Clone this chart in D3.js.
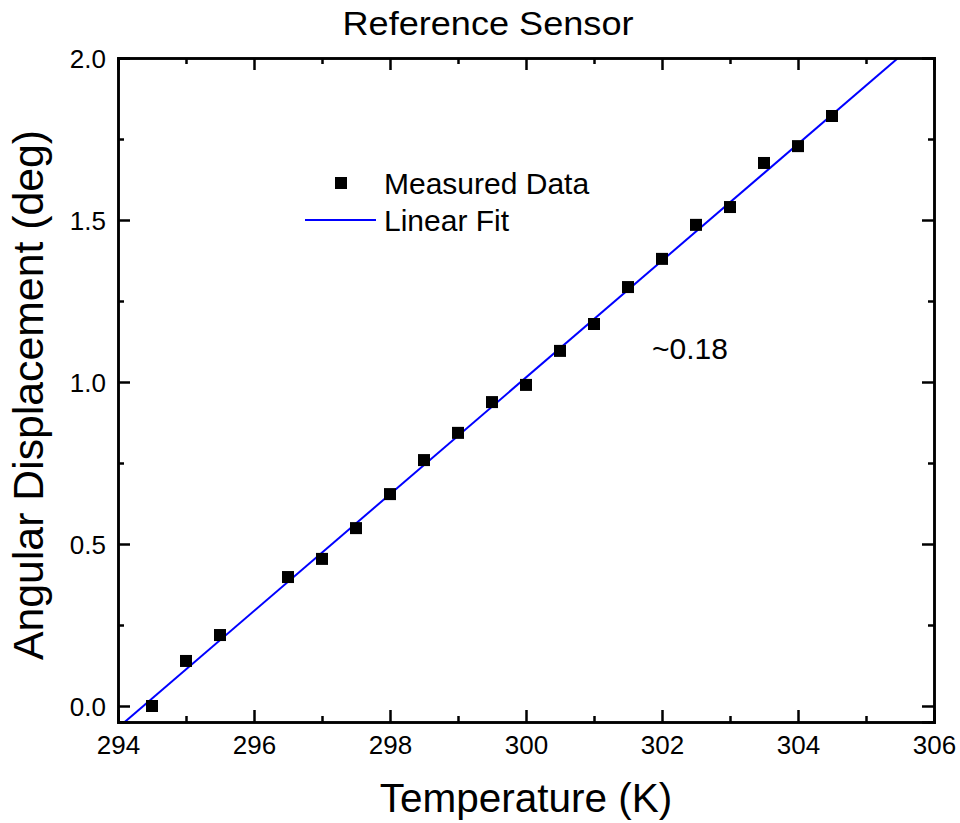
<!DOCTYPE html>
<html><head><meta charset="utf-8">
<script src="https://cdn.jsdelivr.net/npm/d3@7"></script>
<style>body{margin:0;background:#fff}svg{display:block}text{font-family:"Liberation Sans",Arial,sans-serif;fill:#000}</style>
</head><body><svg id="c" width="960" height="823"></svg>
<script>
const temperature = [294.5,295,295.5,296.5,297,297.5,298,298.5,299,299.5,300,300.5,301,301.5,302,302.5,303,303.5,304,304.5];
const displacement = [0.0,0.139,0.219,0.398,0.454,0.549,0.654,0.759,0.843,0.938,0.991,1.096,1.179,1.293,1.380,1.485,1.540,1.676,1.728,1.821];
const fitSlope = 0.1802;
const fitIntercept = -53.046;
const xTicks = [294,296,298,300,302,304,306];
const yTicks = [0.0,0.5,1.0,1.5,2.0];
const xMinor = [295,297,299,301,303,305];
const yMinor = [0.25,0.75,1.25,1.75];

const svg = d3.select("#c");
const L=118,R=934,T=58,B=722;
const x = d3.scaleLinear().domain([294,306]).range([L,R]);
const y = d3.scaleLinear().domain([-0.0494,2.0]).range([B,T]);

svg.append("defs").append("clipPath").attr("id","clip").append("rect")
  .attr("x",L).attr("y",T).attr("width",R-L).attr("height",B-T);

// fit line
const fx = [294, 306];
svg.append("line").attr("clip-path","url(#clip)")
  .attr("x1",x(fx[0])).attr("y1",y(fitSlope*fx[0]+fitIntercept))
  .attr("x2",x(fx[1])).attr("y2",y(fitSlope*fx[1]+fitIntercept))
  .attr("stroke","#0000ff").attr("stroke-width",2);

// points
const s=12;
svg.selectAll("rect.pt").data(temperature).enter().append("rect").attr("class","pt")
  .attr("x",(d)=>x(d)-s/2).attr("y",(d,i)=>y(displacement[i])-s/2)
  .attr("width",s).attr("height",s).attr("fill","#000");

// axes
const tk = 12, tkm = 6;
const gB = svg.append("g").attr("transform",`translate(0,${B})`)
  .call(d3.axisBottom(x).tickValues(xTicks).tickSize(-tk).tickPadding(14).tickFormat(d3.format("d")));
const gT = svg.append("g").attr("transform",`translate(0,${T})`)
  .call(d3.axisTop(x).tickValues(xTicks).tickSize(-tk).tickFormat(""));
const gL = svg.append("g").attr("transform",`translate(${L},0)`)
  .call(d3.axisLeft(y).tickValues(yTicks).tickSize(-tk).tickPadding(12).tickFormat(d3.format(".1f")));
const gR = svg.append("g").attr("transform",`translate(${R},0)`)
  .call(d3.axisRight(y).tickValues(yTicks).tickSize(-tk).tickFormat(""));
svg.append("g").attr("transform",`translate(0,${B})`).call(d3.axisBottom(x).tickValues(xMinor).tickSize(-tkm).tickFormat(""));
svg.append("g").attr("transform",`translate(0,${T})`).call(d3.axisTop(x).tickValues(xMinor).tickSize(-tkm).tickFormat(""));
svg.append("g").attr("transform",`translate(${L},0)`).call(d3.axisLeft(y).tickValues(yMinor).tickSize(-tkm).tickFormat(""));
svg.append("g").attr("transform",`translate(${R},0)`).call(d3.axisRight(y).tickValues(yMinor).tickSize(-tkm).tickFormat(""));
svg.selectAll(".domain").attr("stroke","#000").attr("stroke-width",2.5);
svg.selectAll(".tick line").attr("stroke","#000").attr("stroke-width",2.5);
svg.selectAll(".tick text").attr("font-size",26).attr("font-family","Liberation Sans, Arial, sans-serif").attr("fill","#000");
gL.selectAll(".tick text").attr("dy","0.36em");

// titles
svg.append("text").attr("x",488).attr("y",35).attr("text-anchor","middle").attr("font-size",33)
  .attr("textLength",291).attr("lengthAdjust","spacingAndGlyphs").text("Reference Sensor");
svg.append("text").attr("x",526).attr("y",812).attr("text-anchor","middle").attr("font-size",40.5).text("Temperature (K)");
svg.append("text").attr("transform","translate(43,395) rotate(-90)").attr("text-anchor","middle").attr("font-size",42)
  .attr("textLength",530).attr("lengthAdjust","spacingAndGlyphs").text("Angular Displacement (deg)");

// legend
svg.append("rect").attr("x",335).attr("y",177).attr("width",s).attr("height",s).attr("fill","#000");
svg.append("text").attr("x",384).attr("y",194).attr("font-size",30).text("Measured Data");
svg.append("line").attr("x1",305).attr("x2",376).attr("y1",220).attr("y2",220).attr("stroke","#0000ff").attr("stroke-width",2);
svg.append("text").attr("x",384).attr("y",231).attr("font-size",30).text("Linear Fit");
svg.append("text").attr("x",652).attr("y",359).attr("font-size",30).text("~0.18");
</script></body></html>
